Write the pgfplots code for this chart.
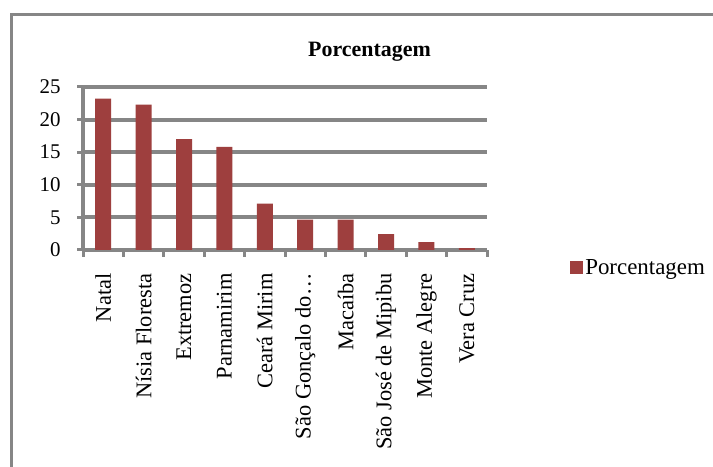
\documentclass[border=0pt]{standalone}
\usepackage{fontspec}
\setmainfont{Liberation Serif}
\usepackage{pgfplots}
\pgfplotsset{compat=1.18}
\definecolor{barred}{RGB}{158,63,62}
\definecolor{gridgray}{RGB}{134,134,134}
\begin{document}
\begin{tikzpicture}[x=1bp,y=1bp]
\useasboundingbox (0,0) rectangle (713,467);
\fill[white] (0,0) rectangle (713,467);
\draw[gridgray, line width=3bp] (11,-10) -- (11,452.5) -- (730,452.5);
\node[anchor=base, font=\bfseries\fontsize{22}{24}\selectfont] at (369.5,410) {Porcentagem};
\begin{axis}[
  at={(83bp,217bp)}, anchor=south west,
  scale only axis, width=404bp, height=163bp,
  xmin=-0.5, xmax=9.5, ymin=0, ymax=25,
  axis lines=left,
  axis line style={gridgray, line width=4bp, -},
  ybar, bar width=16bp,
  ymajorgrids, grid style={gridgray, line width=4bp},
  ytick={0,5,...,25},
  xtick={0,...,9},
  xticklabels={Natal, Nísia Floresta, Extremoz, Parnamirim, Ceará Mirim, São Gonçalo do\ldots, Macaíba, São José de Mipibu, Monte Alegre, Vera Cruz},
  minor xtick={-0.5,0.5,...,9.5},
  tick align=outside,
  major tick length=6bp, minor tick length=7bp,
  tick style={gridgray, line width=3bp},
  major x tick style={draw=none},
  xticklabel style={yshift=-14bp, rotate=90, anchor=east, font=\fontsize{22.5}{24}\selectfont},
  yticklabel style={xshift=-13bp, font=\fontsize{21}{22}\selectfont},
  /pgf/number format/assume math mode=true,
  legend image code/.code={\fill[barred] (0bp,-6.5bp) rectangle (13bp,6.5bp);},
  legend style={draw=none, fill=none, at={(1.197,-0.11)}, anchor=west, font=\fontsize{23}{24}\selectfont, nodes={inner sep=2.5bp}},
  legend cell align=left,
]
\addplot[fill=barred, draw=none] coordinates {(0,23.2) (1,22.3) (2,17.0) (3,15.8) (4,7.1) (5,4.65) (6,4.65) (7,2.45) (8,1.2) (9,0.3)};
\addlegendentry{Porcentagem}
\end{axis}
\end{tikzpicture}
\end{document}
